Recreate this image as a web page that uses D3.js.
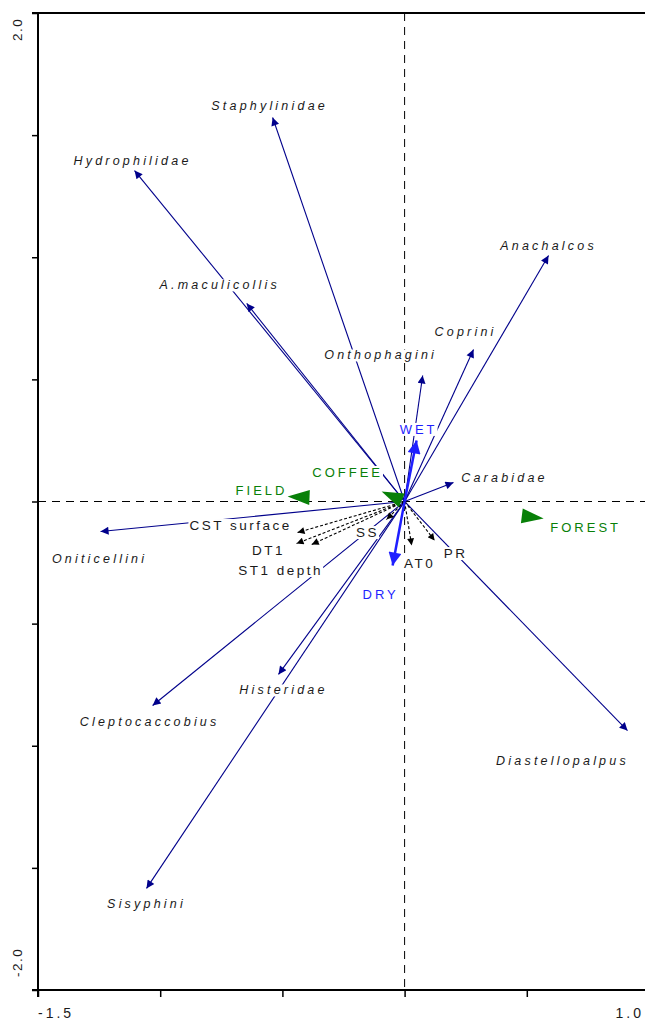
<!DOCTYPE html>
<html>
<head>
<meta charset="utf-8">
<script src="https://cdn.jsdelivr.net/npm/d3@7"></script>
<style>
  html, body { margin: 0; padding: 0; background: #fff; }
  svg { display: block; }
</style>
</head>
<body>
<svg id="chart" width="645" height="1021"></svg>
<script>
// ---------- data ----------
const speciesNames = ["Staphylinidae","Hydrophilidae","A.maculicollis","Onthophagini","Coprini","Anachalcos","Carabidae","Oniticellini","Cleptocaccobius","Histeridae","Sisyphini","Diastellopalpus"];
const speciesX = [-0.540, -1.105, -0.646, 0.074, 0.282, 0.589, 0.200, -1.244, -1.031, -0.516, -1.056, 0.912];
const speciesY = [ 1.572,  1.355,  0.811, 0.516, 0.622, 1.007, 0.078, -0.123, -0.835, -0.708, -1.584, -0.938];

const envNames = ["CST surface","DT1","ST1 depth","SS","AT0","PR"];
const envX = [-0.438, -0.442, -0.380, -0.074, 0.029, 0.123];
const envY = [-0.127, -0.172, -0.176, -0.074, -0.180, -0.160];

const seasonNames = ["WET","DRY"];
const seasonX = [ 0.049, -0.049];
const seasonY = [ 0.250, -0.262];

const habitatNames = ["FIELD","COFFEE","FOREST"];
const habitatX = [-0.479, -0.094, 0.569];
const habitatY = [ 0.020,  0.041, -0.070];

const xTickValues = [-1.5, -1.0, -0.5, 0.0, 0.5, 1.0];
const yTickValues = [-2.0, -1.5, -1.0, -0.5, 0.0, 0.5, 1.0, 1.5, 2.0];
const xTickLabels = ["-1.5", "1.0"];
const yTickLabels = ["2.0", "-2.0"];

// label offsets (pixels, relative to arrow tip; centre of label)
const speciesLabelOffset = {
  "Staphylinidae": [-3, -12], "Hydrophilidae": [-2, -10], "A.maculicollis": [-27, -18],
  "Onthophagini": [-42, -20], "Coprini": [-8, -18], "Anachalcos": [0, -10],
  "Carabidae": [51, -4], "Oniticellini": [-1, 27], "Cleptocaccobius": [-3, 17],
  "Histeridae": [5, 16], "Sisyphini": [0, 16], "Diastellopalpus": [-65, 30]
};
const envLabelOffset = {
  "CST surface": [-57, -7], "DT1": [-28, 7], "ST1 depth": [-31, 26],
  "SS": [-19, 13], "AT0": [8, 18], "PR": [21, 13]
};
const seasonLabelOffset = { "WET": [2, -11], "DRY": [-12, 29] };
const habitatLabelOffset = { "FIELD": [-26, -6], "COFFEE": [-34, -19], "FOREST": [42, 9] };

// ---------- chart ----------
const svg = d3.select("#chart");
const x = d3.scaleLinear().domain([-1.5, 1.0]).range([38, 649]);
const y = d3.scaleLinear().domain([-2.0, 2.0]).range([990, 13]);
const ox = x(0), oy = y(0);

const navy = "#00008b";
const blue = "#1f1fff";
const green = "#088008";
const txt = "#1a1a1a";

const defs = svg.append("defs");
function marker(id, color, w, h) {
  defs.append("marker").attr("id", id)
    .attr("viewBox", "0 0 10 10").attr("refX", 10).attr("refY", 5)
    .attr("markerUnits", "userSpaceOnUse")
    .attr("markerWidth", w).attr("markerHeight", h)
    .attr("orient", "auto")
    .append("path").attr("d", "M0,0 L10,5 L0,10 Z").attr("fill", color);
}
marker("headNavy", navy, 11, 8);
marker("headBlack", "#000", 9, 7);
marker("headBlue", blue, 22, 13);

// dashed zero lines
svg.append("line").attr("x1", ox).attr("x2", ox).attr("y1", y(2)).attr("y2", y(-2))
  .attr("stroke", "#000").attr("stroke-width", 1).attr("stroke-dasharray", "8,6");
svg.append("line").attr("x1", x(-1.5)).attr("x2", 645).attr("y1", oy).attr("y2", oy)
  .attr("stroke", "#000").attr("stroke-width", 1).attr("stroke-dasharray", "8,6");

// axes frame
const axG = svg.append("g");
axG.append("line").attr("x1", x(-1.5)).attr("x2", x(-1.5)).attr("y1", y(2)).attr("y2", y(-2) + 7)
  .attr("stroke", "#000").attr("stroke-width", 2);
axG.append("line").attr("x1", x(-1.5) - 6).attr("x2", 645).attr("y1", y(-2)).attr("y2", y(-2))
  .attr("stroke", "#000").attr("stroke-width", 2);
axG.append("line").attr("x1", x(-1.5) - 6).attr("x2", 645).attr("y1", y(2)).attr("y2", y(2))
  .attr("stroke", "#000").attr("stroke-width", 2);

const yAxis = d3.axisLeft(y).tickValues(yTickValues).tickSize(6).tickFormat("");
const yg = svg.append("g").attr("transform", `translate(${x(-1.5)},0)`).call(yAxis);
yg.select(".domain").remove();
yg.selectAll(".tick line").attr("stroke", "#000").attr("stroke-width", 1.5);

const xAxis = d3.axisBottom(x).tickValues(xTickValues).tickSize(7).tickFormat("");
const xg = svg.append("g").attr("transform", `translate(0,${y(-2)})`).call(xAxis);
xg.select(".domain").remove();
xg.selectAll(".tick line").attr("stroke", "#000").attr("stroke-width", 1.5);

// tick labels
const tickFont = "'Liberation Sans', Arial, sans-serif";
svg.append("text").text(xTickLabels[0])
  .attr("x", x(-1.5)).attr("y", 1018).attr("font-family", tickFont).attr("font-size", 14)
  .attr("letter-spacing", 3).attr("fill", txt);
svg.append("text").text(xTickLabels[1])
  .attr("x", 644).attr("y", 1018).attr("text-anchor", "end").attr("font-family", tickFont).attr("font-size", 14)
  .attr("letter-spacing", 3).attr("fill", txt);
svg.append("text").text(yTickLabels[0])
  .attr("transform", `translate(22,${y(2) + 28}) rotate(-90)`)
  .attr("font-family", tickFont).attr("font-size", 13.5).attr("letter-spacing", 1.5).attr("fill", txt);
svg.append("text").text(yTickLabels[1])
  .attr("transform", `translate(22,${y(-2) - 13}) rotate(-90)`)
  .attr("font-family", tickFont).attr("font-size", 13.5).attr("letter-spacing", 1.5).attr("fill", txt);

// species arrows
const species = speciesNames.map((n, i) => ({ name: n, x: speciesX[i], y: speciesY[i] }));
svg.append("g").selectAll("line").data(species).join("line")
  .attr("x1", ox).attr("y1", oy)
  .attr("x2", d => x(d.x)).attr("y2", d => y(d.y))
  .attr("stroke", navy).attr("stroke-width", 1.1)
  .attr("marker-end", "url(#headNavy)");

// env arrows (dashed)
const env = envNames.map((n, i) => ({ name: n, x: envX[i], y: envY[i] }));
svg.append("g").selectAll("line").data(env).join("line")
  .attr("x1", ox).attr("y1", oy)
  .attr("x2", d => x(d.x)).attr("y2", d => y(d.y))
  .attr("stroke", "#000").attr("stroke-width", 1.1).attr("stroke-dasharray", "3,2")
  .attr("marker-end", "url(#headBlack)");

// habitat centroids: arrow-head triangles pointing away from origin
const habitat = habitatNames.map((n, i) => ({ name: n, x: habitatX[i], y: habitatY[i] }));
svg.append("g").selectAll("path").data(habitat).join("path")
  .attr("d", "M0,0 L-22,-7.5 L-22,7.5 Z")
  .attr("fill", green)
  .attr("transform", d => {
    const px = x(d.x), py = y(d.y);
    const ang = Math.atan2(py - oy, px - ox) * 180 / Math.PI;
    return `translate(${px},${py}) rotate(${ang})`;
  });

// season arrows (blue, thick)
const season = seasonNames.map((n, i) => ({ name: n, x: seasonX[i], y: seasonY[i] }));
svg.append("g").selectAll("line").data(season).join("line")
  .attr("x1", ox).attr("y1", oy)
  .attr("x2", d => x(d.x)).attr("y2", d => y(d.y))
  .attr("stroke", blue).attr("stroke-width", 2.5)
  .attr("marker-end", "url(#headBlue)");

// labels with white background
const labelFont = "'Liberation Sans', Arial, sans-serif";
function addLabels(data, offsets, opts) {
  const g = svg.append("g");
  data.forEach(d => {
    const off = offsets[d.name];
    const cx = x(d.x) + off[0], cy = y(d.y) + off[1];
    const t = g.append("text").text(d.name)
      .attr("x", cx).attr("y", cy)
      .attr("text-anchor", "middle").attr("dominant-baseline", "central")
      .attr("font-family", labelFont).attr("font-size", opts.size)
      .attr("font-style", opts.italic ? "italic" : "normal")
      .attr("letter-spacing", opts.spacing)
      .attr("fill", opts.color);
    const bb = t.node().getBBox();
    g.insert("rect", () => t.node())
      .attr("x", bb.x - 1).attr("y", bb.y + 1).attr("width", bb.width + 1).attr("height", bb.height - 2)
      .attr("fill", "#fff");
  });
}
addLabels(species, speciesLabelOffset, { size: 12.5, italic: true, spacing: 3.2, color: txt });
addLabels(env, envLabelOffset, { size: 13.5, italic: false, spacing: 2.5, color: txt });
addLabels(season, seasonLabelOffset, { size: 13, italic: false, spacing: 3, color: blue });
addLabels(habitat, habitatLabelOffset, { size: 13, italic: false, spacing: 3, color: green });
</script>
</body>
</html>
